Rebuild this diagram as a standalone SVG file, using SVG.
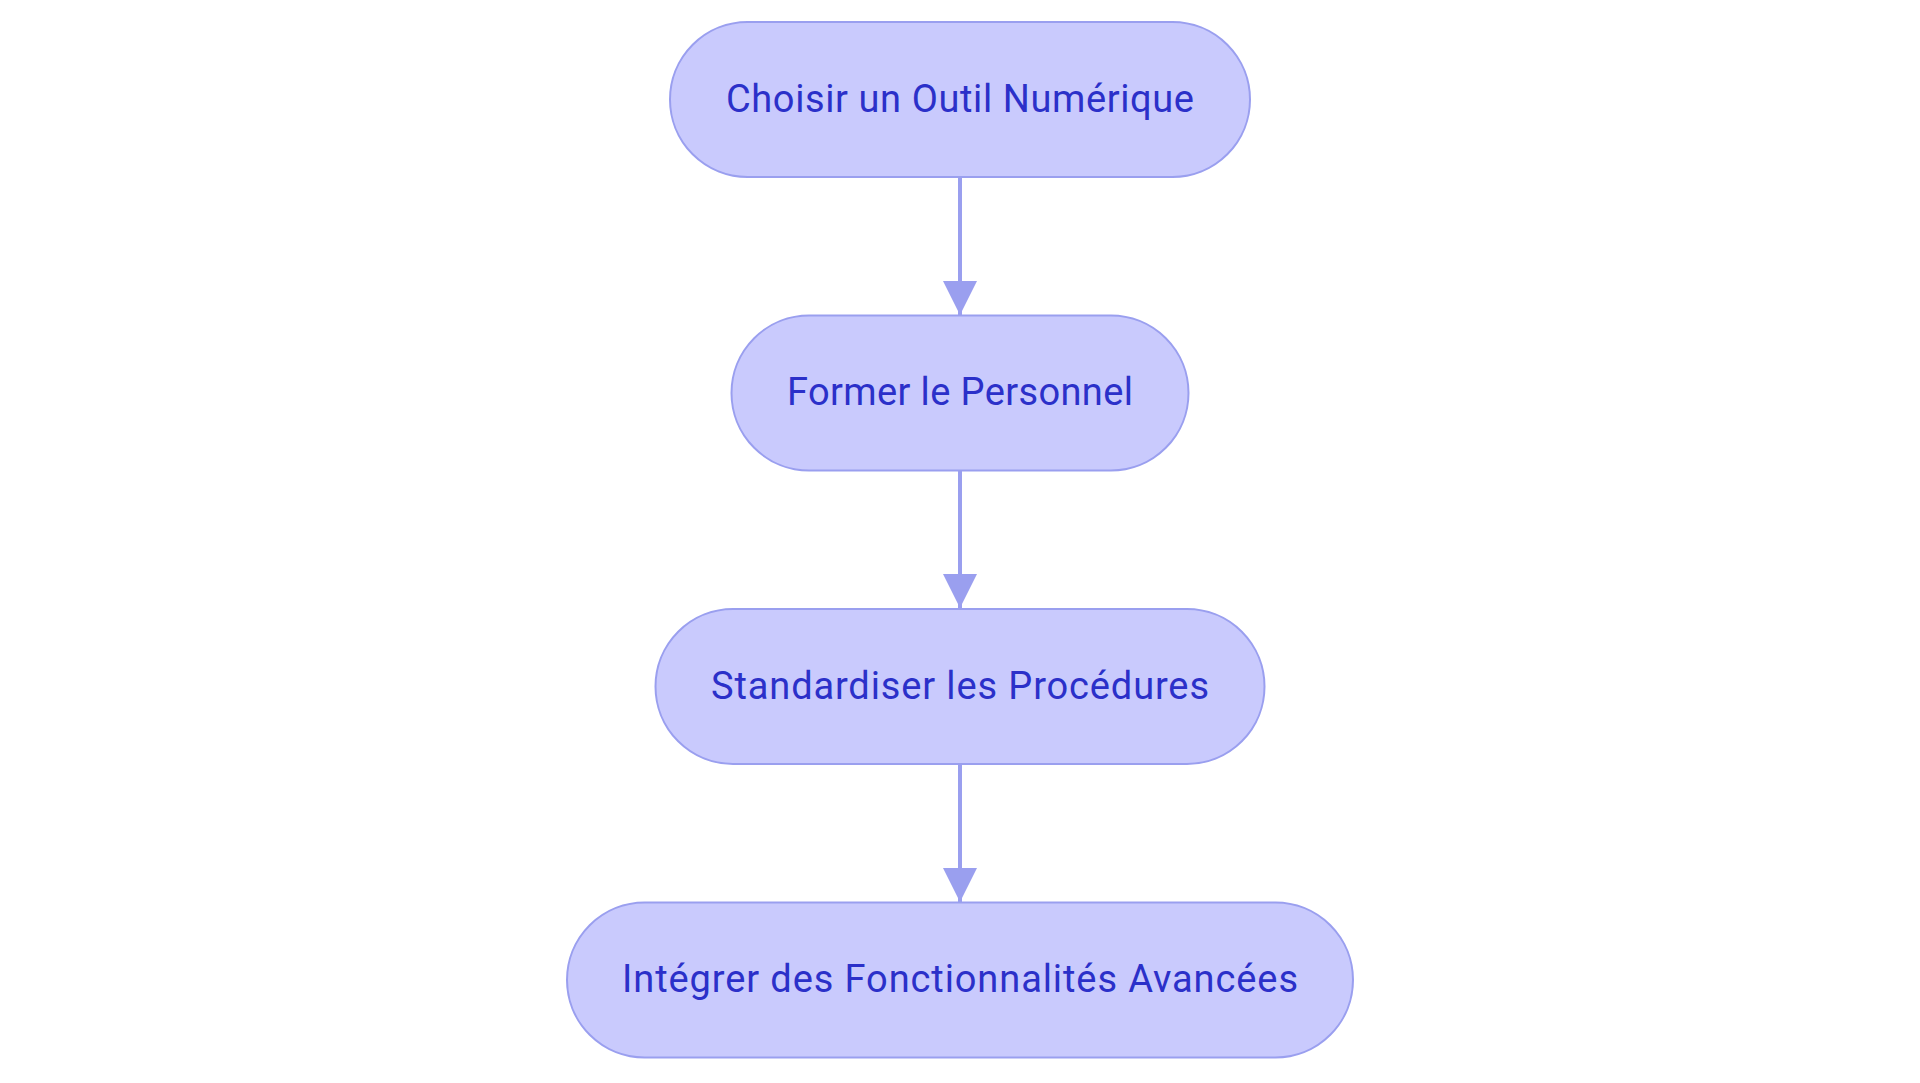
<svg xmlns="http://www.w3.org/2000/svg" width="1920" height="1083" viewBox="0 0 1920 1083">
  <defs>
    <style>
      .node rect { fill: #c9cafd; stroke: #9a9fef; stroke-width: 2; }
      .node text { font-family: Roboto, "Liberation Sans", sans-serif; font-size: 38px; fill: #2b30c9; text-anchor: middle; }
      .edge { stroke: #9a9fef; stroke-width: 4; fill: none; }
    </style>
    <marker id="arrow" viewBox="0 0 10 10" refX="10" refY="5" markerUnits="userSpaceOnUse" markerWidth="34" markerHeight="34" orient="auto">
      <path d="M0,0 L10,5 L0,10 z" fill="#9a9fef"/>
    </marker>
  </defs>
  <rect width="1920" height="1083" fill="#ffffff"/>
  <g id="connectors">
    <line class="edge" x1="960" y1="178" x2="960" y2="315" marker-end="url(#arrow)"/>
    <line class="edge" x1="960" y1="471" x2="960" y2="608" marker-end="url(#arrow)"/>
    <line class="edge" x1="960" y1="765" x2="960" y2="902" marker-end="url(#arrow)"/>
  </g>
  <g id="node1" class="node">
    <rect x="670" y="22" width="580" height="155" rx="77.5" ry="77.5"/>
    <text x="960" y="111.5" textLength="468" lengthAdjust="spacing">Choisir un Outil Numérique</text>
  </g>
  <g id="node2" class="node">
    <rect x="731.5" y="315.5" width="457" height="155" rx="77.5" ry="77.5"/>
    <text x="960" y="405" textLength="346" lengthAdjust="spacing">Former le Personnel</text>
  </g>
  <g id="node3" class="node">
    <rect x="655.5" y="609" width="609" height="155" rx="77.5" ry="77.5"/>
    <text x="960" y="698.5" textLength="498" lengthAdjust="spacing">Standardiser les Procédures</text>
  </g>
  <g id="node4" class="node">
    <rect x="567" y="902.5" width="786" height="155" rx="77.5" ry="77.5"/>
    <text x="960" y="992" textLength="676" lengthAdjust="spacing">Intégrer des Fonctionnalités Avancées</text>
  </g>
</svg>
